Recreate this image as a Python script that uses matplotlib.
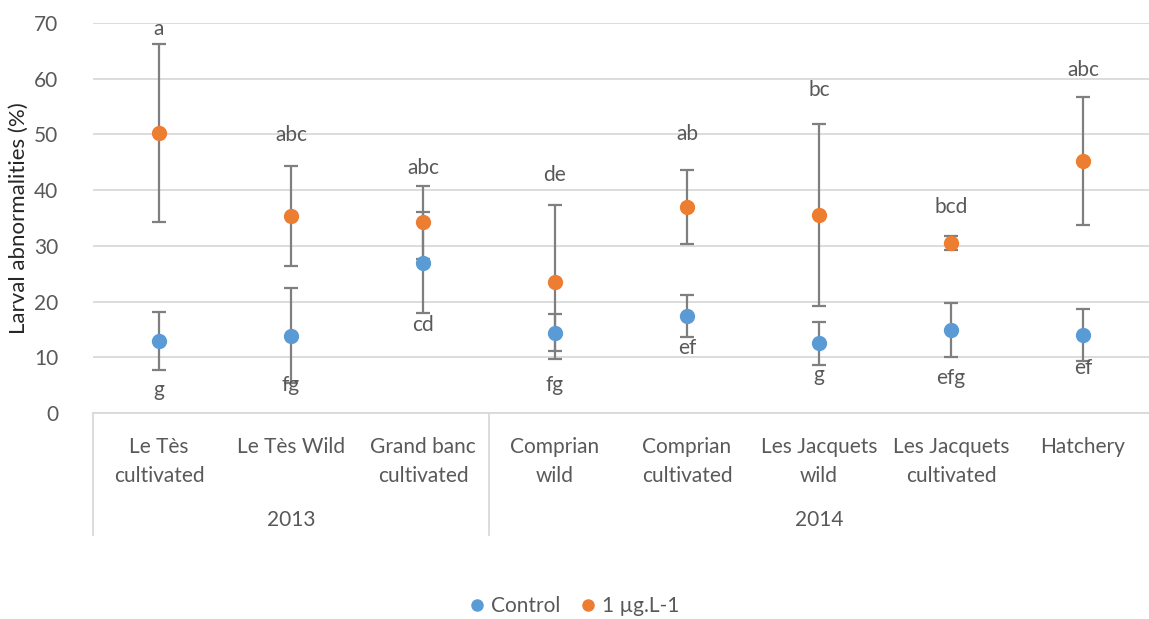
import numpy as np
from matplotlib import pyplot as plt
from matplotlib.lines import Line2D

sites = ['Le Tès\ncultivated', 'Le Tès Wild', 'Grand banc\ncultivated', 'Comprian\nwild',
         'Comprian\ncultivated', 'Les Jacquets\nwild', 'Les Jacquets\ncultivated', 'Hatchery']
years = ['2013', '2014']
n_per_year = [3, 5]

control = [13.0, 13.9, 27.0, 14.4, 17.4, 12.5, 14.9, 14.0]
control_sd = [5.2, 8.6, 9.0, 3.3, 3.8, 3.8, 4.8, 4.6]
dose = [50.2, 35.3, 34.2, 23.5, 37.0, 35.5, 30.5, 45.2]
dose_sd = [16.0, 9.0, 6.6, 13.8, 6.7, 16.3, 1.3, 11.5]

# significance letters and the height they sit at
dose_letters = ['a', 'abc', 'abc', 'de', 'ab', 'bc', 'bcd', 'abc']
dose_letter_y = [68.9, 49.9, 44.0, 42.7, 50.1, 58.0, 37.0, 61.6]
ctrl_letters = ['g', 'fg', 'cd', 'fg', 'ef', 'g', 'efg', 'ef']
ctrl_letter_y = [4.1, 5.0, 15.8, 5.0, 11.7, 6.8, 6.3, 8.1]

blue = '#5B9BD5'
orange = '#ED7D31'
gray = '#595959'
errc = '#7F7F7F'
light = '#D9D9D9'

plt.rcParams['font.family'] = ['Lato', 'DejaVu Sans']

fig = plt.figure(figsize=(11.49, 6.19), dpi=100)
ax = fig.add_axes([93 / 1149, 1 - 413 / 619, 1 - 93 / 1149, 390 / 619])

x = np.arange(len(sites))
ax.errorbar(x, control, yerr=control_sd, fmt='none', ecolor=errc, elinewidth=1.6,
            capsize=5, capthick=1.6, zorder=3)
ax.errorbar(x, dose, yerr=dose_sd, fmt='none', ecolor=errc, elinewidth=1.6,
            capsize=5, capthick=1.6, zorder=3)
ax.plot(x, control, 'o', color=blue, markersize=10, linestyle='none', zorder=4)
ax.plot(x, dose, 'o', color=orange, markersize=10, linestyle='none', zorder=5)

for i in range(len(sites)):
    ax.text(x[i], dose_letter_y[i], dose_letters[i], ha='center', va='center',
            fontsize=15, color=gray, zorder=6)
    ax.text(x[i], ctrl_letter_y[i], ctrl_letters[i], ha='center', va='center',
            fontsize=15, color=gray, zorder=6)

ax.set_xlim(-0.5, len(sites) - 0.5)
ax.set_ylim(0, 70)
ax.set_yticks(range(0, 71, 10))
ax.yaxis.grid(True, color=light, linewidth=1.3)
ax.set_axisbelow(True)
for s in ['top', 'right', 'left']:
    ax.spines[s].set_visible(False)
ax.spines['bottom'].set_color(light)
ax.spines['bottom'].set_linewidth(1.3)
ax.tick_params(axis='y', length=0, labelsize=15, labelcolor=gray, pad=25)
ax.set_xticks([])
ax.set_ylabel('Larval abnormalities (%)', fontsize=16, color='#262626', labelpad=4)

# two-level category axis
trans = ax.get_xaxis_transform()
for i, s in enumerate(sites):
    ax.text(x[i], -0.062, s, transform=trans, ha='center', va='top',
            fontsize=15, color=gray, linespacing=1.55)
start = 0
bounds = [-0.5]
for yr, n in zip(years, n_per_year):
    ax.text(start + (n - 1) / 2, -0.274, yr, transform=trans, ha='center',
            va='center', fontsize=15, color=gray)
    start += n
    bounds.append(start - 0.5)
for b in bounds[:-1]:
    ax.plot([b, b], [0, -0.313], transform=trans, color=light, linewidth=1.3,
            clip_on=False)

handles = [Line2D([], [], marker='o', color=blue, linestyle='none', markersize=8),
           Line2D([], [], marker='o', color=orange, linestyle='none', markersize=8)]
fig.legend(handles, ['Control', '1 µg.L-1'], loc='center', ncol=2,
           bbox_to_anchor=(0.5, 1 - 606 / 619), frameon=False, fontsize=15,
           labelcolor=gray, handlelength=0.7, handletextpad=0.3, columnspacing=1.0)

fig.savefig('out.png', dpi=100)
